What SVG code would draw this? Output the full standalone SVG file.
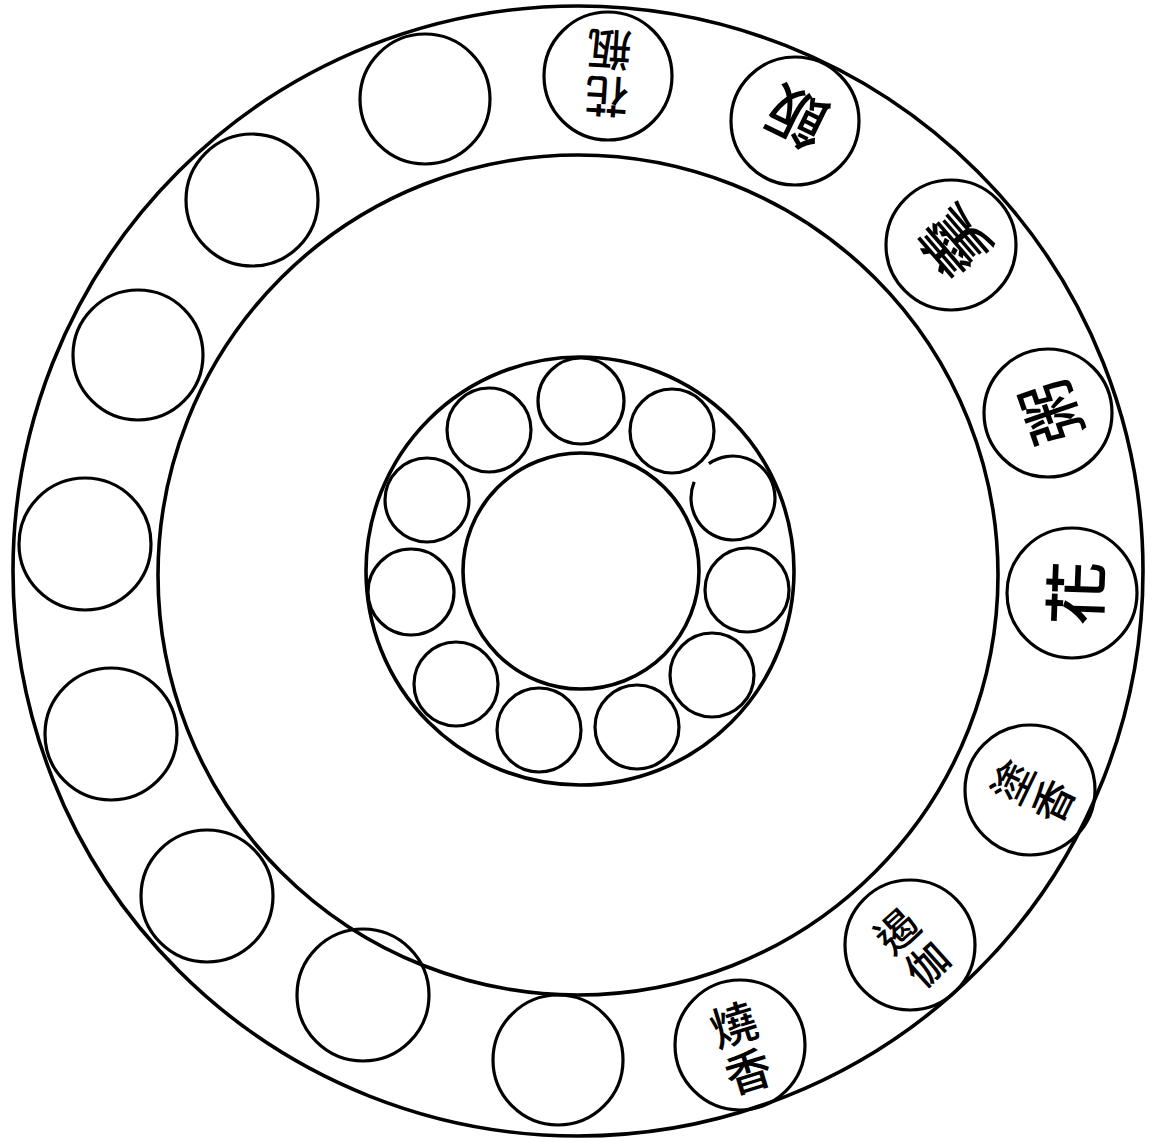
<svg xmlns="http://www.w3.org/2000/svg" width="1155" height="1142" viewBox="0 0 1155 1142">
<style>
.ln{fill:none;stroke:#000;stroke-width:3.6}
.sm{fill:none;stroke:#000;stroke-width:3.2}
.tx{font-family:"Noto Sans CJK TC","Noto Sans CJK SC",sans-serif;font-weight:500;fill:#000;text-anchor:middle;dominant-baseline:central}
</style>
<rect width="1155" height="1142" fill="#fff"/>
<g id="rings">
<circle class="ln" cx="578" cy="571" r="565"/>
<circle class="ln" cx="578" cy="575" r="420"/>
<circle class="ln" cx="580" cy="571" r="214"/>
<circle class="ln" cx="581" cy="571" r="118"/>
</g>
<g id="outer-nodes">
<g id="o1"><circle class="sm" cx="425" cy="99" r="65"/></g>
<g id="o2"><circle class="sm" cx="608" cy="76" r="64"/><g transform="translate(608,76) rotate(-176.5)"><text class="tx" x="0" y="-23" font-size="44">花</text><text class="tx" x="0" y="24" font-size="44">瓶</text></g></g>
<g id="o3"><circle class="sm" cx="795" cy="121" r="64"/><g transform="translate(795,121) rotate(-154)"><text class="tx" x="0" y="0" font-size="60">飯</text></g></g>
<g id="o4"><circle class="sm" cx="951" cy="245" r="65"/><g transform="translate(951,245) rotate(-131)"><text class="tx" x="0" y="0" font-size="66">羹</text></g></g>
<g id="o5"><circle class="sm" cx="1048" cy="413" r="64"/><g transform="translate(1048,413) rotate(-109)"><text class="tx" x="0" y="0" font-size="62">粥</text></g></g>
<g id="o6"><circle class="sm" cx="1072" cy="593" r="65"/><g transform="translate(1072,593) rotate(-88)"><text class="tx" x="0" y="0" font-size="64">花</text></g></g>
<g id="o7"><circle class="sm" cx="1030" cy="790" r="65"/><g transform="translate(1030,790) rotate(-64)"><text class="tx" x="0" y="-22" font-size="42">塗</text><text class="tx" x="0" y="23" font-size="42">香</text></g></g>
<g id="o8"><circle class="sm" cx="910" cy="945" r="65"/><g transform="translate(910,945) rotate(-42)"><text class="tx" x="0" y="-22" font-size="42">遏</text><text class="tx" x="0" y="23" font-size="42">伽</text></g></g>
<g id="o9"><circle class="sm" cx="740" cy="1045" r="65"/><g transform="translate(740,1045) rotate(-17)"><text class="tx" x="0" y="-24" font-size="46">燒</text><text class="tx" x="0" y="25" font-size="46">香</text></g></g>
<g id="o10"><circle class="sm" cx="558" cy="1060" r="65"/></g>
<g id="o11"><circle class="sm" cx="363" cy="995" r="66"/></g>
<g id="o12"><circle class="sm" cx="207" cy="896" r="66"/></g>
<g id="o13"><circle class="sm" cx="111" cy="734" r="66"/></g>
<g id="o14"><circle class="sm" cx="85" cy="544" r="66"/></g>
<g id="o15"><circle class="sm" cx="138" cy="355" r="65"/></g>
<g id="o16"><circle class="sm" cx="252" cy="200" r="66"/></g>
</g>
<g id="inner-nodes">
<g id="i1"><circle class="sm" cx="581" cy="401" r="43"/></g>
<g id="i2"><circle class="sm" cx="489" cy="430" r="42"/></g>
<g id="i3"><circle class="sm" cx="672" cy="431" r="42"/></g>
<g id="i4"><circle class="sm" cx="427" cy="500" r="42"/></g>
<g id="i5"><path class="sm" d="M708.9,463.6 A42,42 0 1 1 694.2,481.9"/></g>
<g id="i6"><circle class="sm" cx="411" cy="592" r="43"/></g>
<g id="i7"><circle class="sm" cx="747" cy="590" r="42"/></g>
<g id="i8"><circle class="sm" cx="456" cy="684" r="42"/></g>
<g id="i9"><circle class="sm" cx="712" cy="675" r="42"/></g>
<g id="i10"><circle class="sm" cx="539" cy="730" r="42"/></g>
<g id="i11"><circle class="sm" cx="637" cy="727" r="42"/></g>
</g>
<g id="connectors"></g>
</svg>
